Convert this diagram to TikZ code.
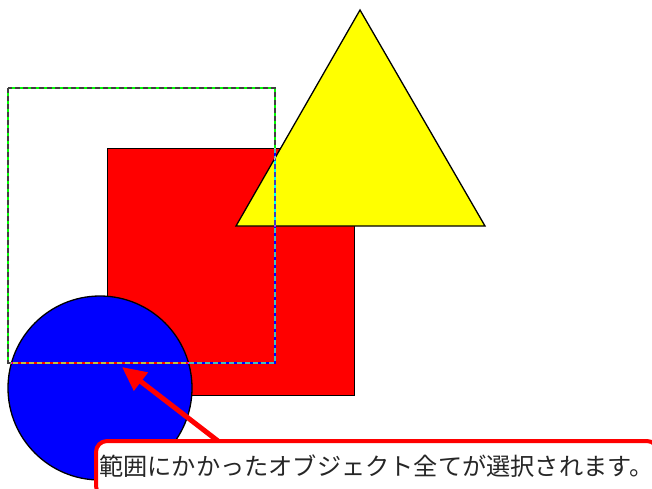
\documentclass[tikz,border=0pt]{standalone}
\usepackage{fontspec}
\newfontfamily\cjk{Noto Sans CJK JP}
\usetikzlibrary{arrows.meta}
\definecolor{pureyellow}{RGB}{255,255,0}
\begin{document}
\begin{tikzpicture}[x=1pt,y=-1pt,
  shapeline/.style={draw=black,line width=1.3pt},
  callout/.style={draw=red,line width=4pt,fill=white,rounded corners=11pt,inner sep=0pt},
  pointer/.style={draw=red,line width=5pt,-{Triangle[length=24pt,width=22pt]}},
  lbl/.style={font=\cjk\fontsize{24.2pt}{26pt}\selectfont,text=black!85,inner sep=0pt,anchor=west}]
\useasboundingbox (0,0) rectangle (652,488);
\clip (0,0) rectangle (652,488);
\fill[white] (0,0) rectangle (652,488);
% red square
\node[shapeline,fill=red,minimum width=247pt,minimum height=247pt,inner sep=0pt,anchor=north west] (sq) at (107,148) {};
% yellow triangle
\coordinate (ta) at (360,10);
\coordinate (tl) at (236,226);
\coordinate (tr) at (485,226);
\filldraw[shapeline,fill=pureyellow,line join=miter] (ta) -- (tl) -- (tr) -- cycle;
% blue circle
\node[shapeline,fill=blue,circle,minimum size=184pt,inner sep=0pt] (ci) at (100,388) {};
% selection rectangle (XOR look)
\coordinate (s1) at (8,88);
\coordinate (s2) at (275,363);
\begin{scope}[blend mode=difference]
  \draw[draw={rgb,255:red,191;green,191;blue,191},line width=1.8pt,dash pattern=on 5pt off 3pt] (s1) rectangle (s2);
  \draw[draw={rgb,255:red,255;green,0;blue,255},line width=1.8pt,dash pattern=on 3pt off 5pt,dash phase=3pt] (s1) rectangle (s2);
\end{scope}
% callout
\coordinate (tail) at (218,441);
\coordinate (tip) at (122,367);
\draw[pointer] (tail) -- (tip);
\node[callout,minimum width=562pt,minimum height=56pt,anchor=north west] (cb) at (94,439) {};
\node[lbl] (txt) at (99,466) {範囲にかかったオブジェクト全てが選択されます。};
\end{tikzpicture}
\end{document}
